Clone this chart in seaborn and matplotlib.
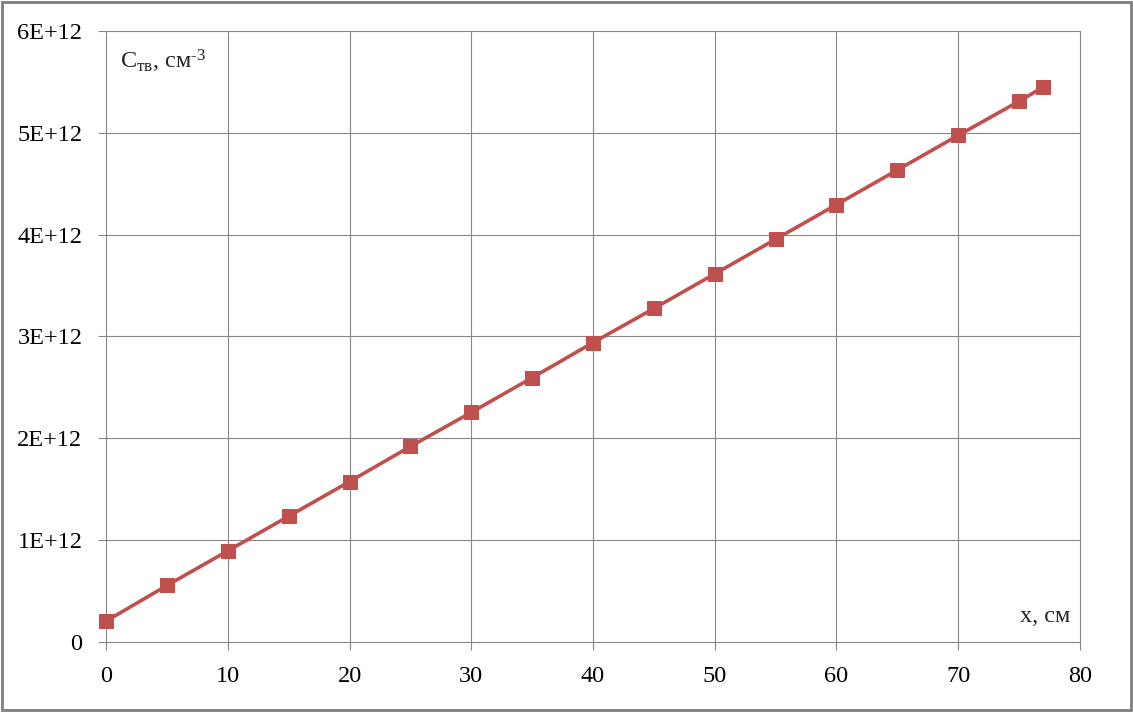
import numpy as np
import pandas as pd
import matplotlib
matplotlib.use("Agg")
import matplotlib.pyplot as plt
import seaborn as sns
from matplotlib.patches import Rectangle

# distance along sample, cm
x_cm = [0, 5, 10, 15, 20, 25, 30, 35, 40, 45, 50, 55, 60, 65, 70, 75, 77]
# concentration in solid, cm^-3
c_tv = [0.205e12, 0.555e12, 0.895e12, 1.235e12, 1.575e12, 1.92e12, 2.255e12,
        2.595e12, 2.94e12, 3.275e12, 3.615e12, 3.955e12, 4.295e12, 4.635e12,
        4.975e12, 5.31e12, 5.45e12]
y_ticks = [0, 1e12, 2e12, 3e12, 4e12, 5e12, 6e12]
y_labels = ["0", "1E+12", "2E+12", "3E+12", "4E+12", "5E+12", "6E+12"]
x_ticks = [0, 10, 20, 30, 40, 50, 60, 70, 80]

df = pd.DataFrame({"x": x_cm, "c": c_tv})

sns.set_style("white")
plt.rcParams['font.family'] = ['Liberation Serif', 'DejaVu Serif']
plt.rcParams['mathtext.fontset'] = 'custom'
plt.rcParams['mathtext.rm'] = 'Liberation Serif'
plt.rcParams['mathtext.it'] = 'Liberation Serif'

fig = plt.figure(figsize=(11.33, 7.12), dpi=100)
ax = fig.add_axes([0.0936, 0.0983, 0.8596, 0.8582])

grid_col = "#868686"
for xt in x_ticks:
    ax.axvline(xt, color=grid_col, lw=0.8, zorder=1, clip_on=False)
for yt in y_ticks:
    ax.axhline(yt, color=grid_col, lw=0.8, zorder=1, clip_on=False)

sns.lineplot(data=df, x="x", y="c", ax=ax, color="#C0504D", lw=2.6,
             marker="s", markersize=10.5, markeredgecolor="#C0504D", zorder=3,
             clip_on=False)

ax.set_xlim(0, 80)
ax.set_ylim(0, 6e12)
ax.set_xticks(x_ticks)
ax.set_xticklabels([str(v) for v in x_ticks])
ax.set_yticks(y_ticks)
ax.set_yticklabels(y_labels)
ax.set_xlabel("")
ax.set_ylabel("")
for s in ax.spines.values():
    s.set_visible(False)
ax.tick_params(axis="both", bottom=True, left=True, direction="out", length=6,
               width=0.8, color=grid_col, labelcolor="black", labelsize=17.5, pad=11)

ax.text(0.0144, 0.972, "C$_{\\mathrm{тв}}$, см$^{\\mathrm{‐3}}$", transform=ax.transAxes,
        fontsize=17.5, ha="left", va="top")
ax.text(0.9897, 0.0327, "х, см", transform=ax.transAxes, fontsize=17.5,
        ha="right", va="baseline")

fig.patches.append(Rectangle((0.002, 0.003), 0.996, 0.994, transform=fig.transFigure,
                             fill=False, edgecolor="#7f7f7f", lw=2))

fig.savefig("out.png", dpi=100)
